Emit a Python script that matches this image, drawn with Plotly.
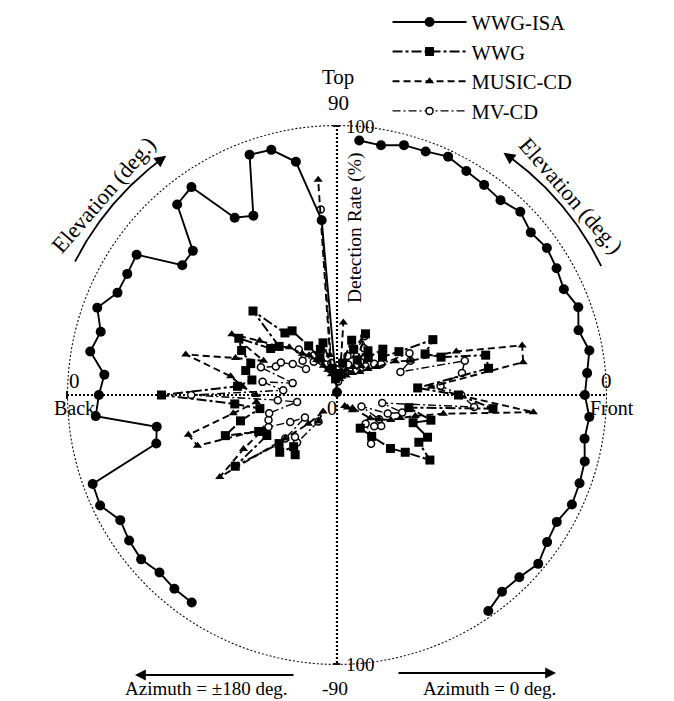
import numpy as np
import plotly.graph_objects as go

# ---------------- data ----------------
elevations = list(range(-55, 90, 5))  # -55 ... 85 deg

isa_front = [97.7, 95.1, 95.5, 97.3, 95.0, 94.0, 96.0, 95.6, 95.0, 93.1, 93.8, 91.8, 93.0, 94.9, 92.6,
             95.1, 92.7, 93.9, 94.9, 93.7, 96.0, 94.2, 95.0, 95.8, 97.4, 96.0, 95.8, 93.9, 94.6]
isa_back_elev = elevations + [90]
isa_back = [93.8, 93.7, 93.0, 94.7, 94.0, 92.7, 96.8, 96.3, 69.3, 67.8, 89.7, 88.2, 86.5, 92.8, 90.6,
            94.5, 89.7, 89.7, 90.6, 74.8, 75.5, 92.1, 94.0, 75.8, 73.3, 94.7, 94.0, 87.7, 65.0, 1.0]

wwg_front = [15, 20, 28, 33, 42, 35, 37, 30, 36, 27, 58, 45, 30, 57, 57,
             41, 36, 41, 28, 22, 24, 18, 20, 15, 25, 18, 21, 12, 8]
wwg_back = [27, 25, 30, 28, 46, 30, 32, 44, 37, 29, 38, 65, 37, 32, 35,
            34, 39, 42, 30, 28, 44, 30, 29, 21, 15, 18, 20, 10, 6]

music_front = [5, 6, 8, 7.5, 15, 18, 22, 25, 30, 40, 73, 45, 35, 70, 71,
               47, 30, 25, 18, 15, 12, 14, 10, 12, 8, 10, 7, 6, 27]
music_back = [12, 8, 15, 25, 53, 40, 30, 55, 57, 39, 30, 30, 35, 40, 58,
              40, 30, 45, 35, 28, 25, 20, 18, 15, 12, 10, 8, 15, 80]

mv_front = [22, 20, 15, 18, 20, 18, 10, 20, 25, 17, 51, 46, 38.5, 47, 49,
            25, 30, 31, 20, 18, 15, 18, 15, 20, 24, 12, 15, 8, 5]
mv_back = [12, 23, 22, 25, 14.5, 20, 28, 27, 26, 15, 22, 54, 20, 28, 17,
           30, 25, 24, 20, 15, 18, 22, 15, 17, 14, 12, 10, 12, 69]

series_names = ["WWG-ISA", "WWG", "MUSIC-CD", "MV-CD"]

FONT = "Liberation Serif"


def front_theta(el):
    return list(el)


def back_theta(el):
    return [180 - e for e in el]


styles = {
    "WWG-ISA": (dict(color="black", width=1.9, dash="solid"),
                dict(symbol="circle", size=10, color="black")),
    "WWG": (dict(color="black", width=2.0, dash="10px,3px,3px,3px"),
            dict(symbol="square", size=9, color="black")),
    "MUSIC-CD": (dict(color="black", width=1.9, dash="7px,4px"),
                 dict(symbol="triangle-up", size=8, color="black")),
    "MV-CD": (dict(color="black", width=1.4, dash="8px,3px,2px,3px"),
              dict(symbol="circle", size=7, color="white", line=dict(color="black", width=1.5))),
}

data = {
    "WWG-ISA": ((elevations, isa_front), (isa_back_elev, isa_back)),
    "WWG": ((elevations, wwg_front), (elevations, wwg_back)),
    "MUSIC-CD": ((elevations, music_front), (elevations, music_back)),
    "MV-CD": ((elevations, mv_front), (elevations, mv_back)),
}

fig = go.Figure()

# frame: dotted outer circle and cross lines
frame_line = dict(color="black", width=2.2, dash="2px,2px")
fig.add_trace(go.Scatterpolar(r=[100] * 361, theta=list(range(0, 361)), mode="lines",
                              line=frame_line, showlegend=False, hoverinfo="skip"))
fig.add_trace(go.Scatterpolar(r=[100, 0, 100], theta=[180, 0, 0], mode="lines",
                              line=frame_line, showlegend=False, hoverinfo="skip"))
fig.add_trace(go.Scatterpolar(r=[100, 0, 100], theta=[90, 0, 270], mode="lines",
                              line=frame_line, showlegend=False, hoverinfo="skip"))

draw_order = ["MV-CD", "MUSIC-CD", "WWG", "WWG-ISA"]
for name in draw_order:
    ln, mk = styles[name]
    (fe, fr), (be, br) = data[name]
    rank = series_names.index(name) + 1
    fig.add_trace(go.Scatterpolar(r=fr, theta=front_theta(fe), mode="lines+markers", name=name,
                                  line=ln, marker=mk, legendgroup=name, legendrank=rank,
                                  showlegend=True, cliponaxis=False))
    fig.add_trace(go.Scatterpolar(r=br, theta=back_theta(be), mode="lines+markers", name=name,
                                  line=ln, marker=mk, legendgroup=name, legendrank=rank,
                                  showlegend=False, cliponaxis=False))

# ---------------- decorations (pixel overlay) ----------------
W, H = 674, 701
cx, cy, R = 337, 395, 294


def arc(t0, t1):
    t = np.radians(np.linspace(t0, t1, 60))
    return cx + R * np.cos(t), cy - R * np.sin(t)


annotations = []
for t0, t1 in [(153, 127), (26, 54)]:
    ax_, ay_ = arc(t0, t1)
    fig.add_trace(go.Scatter(x=ax_, y=ay_, mode="lines", line=dict(color="black", width=1.8),
                             xaxis="x", yaxis="y", showlegend=False, hoverinfo="skip"))
    tip = np.radians(t1 + (-1 if t1 < t0 else 1) * 1.5)
    annotations.append(dict(x=cx + R * np.cos(tip), y=cy - R * np.sin(tip),
                            ax=ax_[-3], ay=ay_[-3], xref="x", yref="y", axref="x", ayref="y",
                            text="", showarrow=True, arrowhead=2, arrowsize=1.3, arrowwidth=1.8,
                            arrowcolor="black"))

# bottom azimuth arrows
annotations.append(dict(x=135, y=675, ax=295, ay=675, xref="x", yref="y", axref="x", ayref="y",
                        text="", showarrow=True, arrowhead=2, arrowsize=1.2, arrowwidth=1.8,
                        arrowcolor="black"))
annotations.append(dict(x=556, y=673, ax=397, ay=673, xref="x", yref="y", axref="x", ayref="y",
                        text="", showarrow=True, arrowhead=2, arrowsize=1.2, arrowwidth=1.8,
                        arrowcolor="black"))


def txt(x, y, s, size=20, angle=0, xanchor="center", yanchor="middle"):
    annotations.append(dict(x=x, y=y, xref="x", yref="y", text=s, showarrow=False,
                            font=dict(family=FONT, size=size, color="black"),
                            textangle=angle, xanchor=xanchor, yanchor=yanchor,
                            borderpad=0))


txt(338, 77, "Top", 21)
txt(338, 103, "90", 21)
txt(345, 126, "100", 19, xanchor="left")
txt(345, 664, "100", 19, xanchor="left")
txt(335, 700, "-90", 19.5, yanchor="bottom")
txt(206, 700, "Azimuth = \u00b1180 deg.", 19, yanchor="bottom")
txt(489, 700, "Azimuth = 0 deg.", 19, yanchor="bottom")
txt(74, 381, "0", 21)
txt(74, 408, "Back", 20)
txt(606, 381, "0", 21)
txt(612, 408, "Front", 20)
txt(332, 408, "0", 20)
txt(355, 228, "Detection Rate (%)", 19.5, angle=-90)
txt(103, 195, "Elevation (deg.)", 22.5, angle=-49)
txt(571, 195, "Elevation (deg.)", 22.5, angle=49)

shapes = [
    dict(type="line", xref="x", yref="y", x0=333, x1=340, y0=126, y1=126, line=dict(color="black", width=1.8)),
    dict(type="line", xref="x", yref="y", x0=333, x1=340, y0=664, y1=664, line=dict(color="black", width=1.8)),
    dict(type="line", xref="x", yref="y", x0=67, x1=67, y0=391, y1=399, line=dict(color="black", width=1.8)),
]

fig.update_layout(
    width=W, height=H,
    margin=dict(l=0, r=0, t=0, b=0),
    paper_bgcolor="white", plot_bgcolor="rgba(0,0,0,0)",
    font=dict(family=FONT, color="black"),
    polar=dict(
        domain=dict(x=[67 / W, 607 / W], y=[(H - 665) / H, (H - 125) / H]),
        bgcolor="rgba(0,0,0,0)",
        radialaxis=dict(range=[0, 100], visible=False, showgrid=False),
        angularaxis=dict(rotation=0, direction="counterclockwise", showgrid=False,
                         showticklabels=False, ticks="", showline=False),
    ),
    xaxis=dict(range=[0, W], domain=[0, 1], visible=False, fixedrange=True),
    yaxis=dict(range=[H, 0], domain=[0, 1], visible=False, fixedrange=True),
    showlegend=True,
    legend=dict(x=0.575, y=0.997, xanchor="left", yanchor="top", bgcolor="rgba(0,0,0,0)",
                font=dict(family=FONT, size=20.5, color="black"), itemwidth=74,
                tracegroupgap=7, traceorder="normal"),
    annotations=annotations,
    shapes=shapes,
)

fig.write_html("out.html")
